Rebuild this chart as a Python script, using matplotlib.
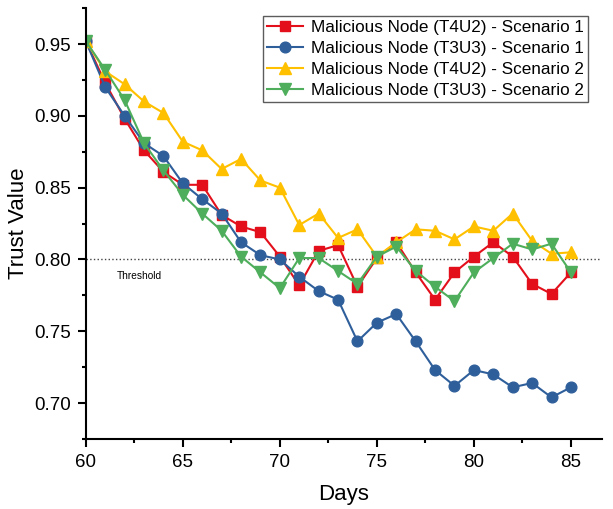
import matplotlib
matplotlib.use('Agg')
import matplotlib.pyplot as plt
from matplotlib.ticker import MultipleLocator

plt.rcParams['font.family'] = ['Liberation Sans', 'DejaVu Sans']

days = list(range(60, 86))
t4u2_s1 = [0.952, 0.923, 0.898, 0.876, 0.861, 0.852, 0.852, 0.831, 0.823, 0.819, 0.802, 0.782, 0.806,
           0.810, 0.781, 0.801, 0.812, 0.791, 0.772, 0.791, 0.802, 0.812, 0.802, 0.783, 0.776, 0.791]
t3u3_s1 = [0.952, 0.920, 0.900, 0.881, 0.872, 0.853, 0.842, 0.832, 0.812, 0.803, 0.800, 0.788, 0.778,
           0.772, 0.743, 0.756, 0.762, 0.743, 0.723, 0.712, 0.723, 0.720, 0.711, 0.714, 0.704, 0.711]
t4u2_s2 = [0.952, 0.931, 0.922, 0.910, 0.902, 0.882, 0.876, 0.863, 0.870, 0.855, 0.850, 0.824, 0.832,
           0.815, 0.821, 0.802, 0.812, 0.821, 0.820, 0.814, 0.823, 0.820, 0.832, 0.813, 0.804, 0.805]
t3u3_s2 = [0.952, 0.932, 0.911, 0.881, 0.862, 0.845, 0.832, 0.820, 0.802, 0.791, 0.780, 0.801, 0.801,
           0.792, 0.783, 0.802, 0.809, 0.792, 0.781, 0.771, 0.791, 0.801, 0.811, 0.807, 0.811, 0.791]
labels = ['Malicious Node (T4U2) - Scenario 1', 'Malicious Node (T3U3) - Scenario 1',
          'Malicious Node (T4U2) - Scenario 2', 'Malicious Node (T3U3) - Scenario 2']
threshold = 0.80

fig = plt.figure(figsize=(6.13, 5.09), dpi=100)
ax = fig.add_axes([0.140, 0.1375, 0.842, 0.8465])

ax.plot(days, t4u2_s1, marker='s', color='#E3101C', lw=1.5, ms=6.8, label=labels[0])
ax.plot(days, t3u3_s1, marker='o', color='#2F5F9B', lw=1.5, ms=7.7, label=labels[1])
ax.plot(days, t4u2_s2, marker='^', color='#FFC000', lw=1.5, ms=8.5, label=labels[2])
ax.plot(days, t3u3_s2, marker='v', color='#4EAE5C', lw=1.5, ms=8.5, label=labels[3])

ax.plot([60, 86.5], [threshold, threshold], ls=':', color='#444444', lw=1, zorder=1)
ax.text(61.6, 0.7882, 'Threshold', fontsize=7.3, va='center')

ax.set_xlim(60, 86.6)
ax.set_ylim(0.675, 0.975)
ax.xaxis.set_major_locator(MultipleLocator(5))
ax.xaxis.set_minor_locator(MultipleLocator(2.5))
ax.yaxis.set_major_locator(MultipleLocator(0.05))
ax.yaxis.set_minor_locator(MultipleLocator(0.025))
ax.yaxis.set_major_formatter(plt.FormatStrFormatter('%.2f'))

for s in ['top', 'right']:
    ax.spines[s].set_visible(False)
for s in ['left', 'bottom']:
    ax.spines[s].set_linewidth(1.5)
ax.tick_params(which='major', length=6, width=1.5, labelsize=13.5, pad=4.5)
ax.tick_params(which='minor', length=3, width=1.5)

ax.set_xlabel('Days', fontsize=16, labelpad=10)
ax.set_ylabel('Trust Value', fontsize=16, labelpad=4)

leg = ax.legend(loc='upper right', bbox_to_anchor=(0.960, 0.969), bbox_transform=fig.transFigure,
                borderaxespad=0, fontsize=12.3, fancybox=False, edgecolor='#333333',
                handlelength=2.1, labelspacing=0.35, borderpad=0.25, handletextpad=0.5)
leg.get_frame().set_linewidth(1)

fig.savefig('out.png', dpi=100)
